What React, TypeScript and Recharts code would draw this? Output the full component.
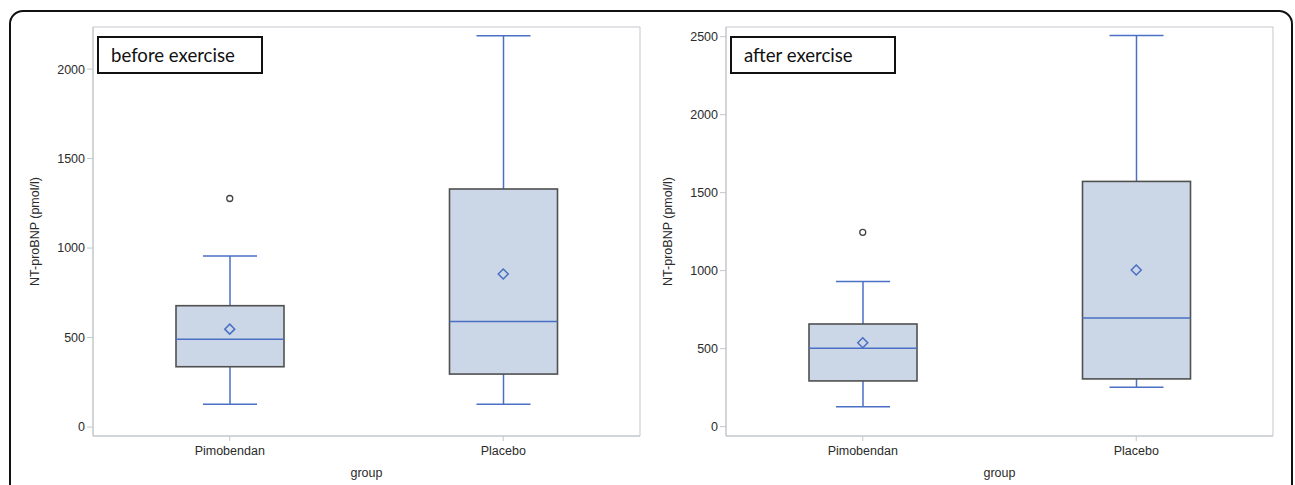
import React from 'react';
import { ComposedChart, Bar, Scatter, XAxis, YAxis, CartesianGrid, Label } from 'recharts';

const GROUPS = ['Pimobendan', 'Placebo'];

// before exercise
const BEFORE_MIN = [128, 128];
const BEFORE_Q1 = [337, 296];
const BEFORE_MEDIAN = [490, 590];
const BEFORE_Q3 = [678, 1330];
const BEFORE_MAX = [955, 2186];
const BEFORE_MEAN = [547, 855];
const BEFORE_OUTLIER = [1277, null];
const BEFORE_TICKS = [0, 500, 1000, 1500, 2000];

// after exercise
const AFTER_MIN = [128, 253];
const AFTER_Q1 = [293, 306];
const AFTER_MEDIAN = [502, 697];
const AFTER_Q3 = [658, 1572];
const AFTER_MAX = [931, 2508];
const AFTER_MEAN = [538, 1004];
const AFTER_OUTLIER = [1246, null];
const AFTER_TICKS = [0, 500, 1000, 1500, 2000, 2500];

const BLUE = '#4a6fc5';
const FILL = '#cbd6e6';
const EDGE = '#505050';
const FRAME = '#c3c7cc';
const TEXT = '#2b2b2b';
const FONT = "'Liberation Sans', Arial, sans-serif";

function buildRows(min, q1, median, q3, max, mean, outlier) {
  return GROUPS.map((group, i) => ({
    group,
    range: [min[i], max[i]],
    min: min[i],
    q1: q1[i],
    median: median[i],
    q3: q3[i],
    max: max[i],
    mean: mean[i],
    outlier: outlier[i],
  }));
}

const BEFORE_ROWS = buildRows(BEFORE_MIN, BEFORE_Q1, BEFORE_MEDIAN, BEFORE_Q3, BEFORE_MAX, BEFORE_MEAN, BEFORE_OUTLIER);
const AFTER_ROWS = buildRows(AFTER_MIN, AFTER_Q1, AFTER_MEDIAN, AFTER_Q3, AFTER_MAX, AFTER_MEAN, AFTER_OUTLIER);

// the bar spans min..max, so its pixel height gives the value scale for the box parts
function BoxShape(props: any) {
  const { x, y, width, height, payload } = props;
  if (!payload || !height) return null;
  const k = height / (payload.max - payload.min);
  const py = (v: number) => y + (payload.max - v) * k;
  const cx = x + width / 2;
  const cap = width / 4;
  return (
    <g>
      <line x1={cx} x2={cx} y1={py(payload.max)} y2={py(payload.q3)} stroke={BLUE} strokeWidth={1.5} />
      <line x1={cx} x2={cx} y1={py(payload.q1)} y2={py(payload.min)} stroke={BLUE} strokeWidth={1.5} />
      <line x1={cx - cap} x2={cx + cap} y1={py(payload.max)} y2={py(payload.max)} stroke={BLUE} strokeWidth={1.5} />
      <line x1={cx - cap} x2={cx + cap} y1={py(payload.min)} y2={py(payload.min)} stroke={BLUE} strokeWidth={1.5} />
      <rect x={x} y={py(payload.q3)} width={width} height={py(payload.q1) - py(payload.q3)} fill={FILL} stroke={EDGE} strokeWidth={1.6} />
      <line x1={x} x2={x + width} y1={py(payload.median)} y2={py(payload.median)} stroke={BLUE} strokeWidth={1.5} />
    </g>
  );
}

function MeanShape(props: any) {
  const { cx, cy } = props;
  if (cx == null || cy == null || isNaN(cy)) return null;
  const r = 5;
  return <path d={`M${cx},${cy - r}L${cx + r},${cy}L${cx},${cy + r}L${cx - r},${cy}Z`} fill="none" stroke={BLUE} strokeWidth={1.5} />;
}

function OutlierShape(props: any) {
  const { cx, cy, payload } = props;
  if (!payload || payload.outlier == null || cy == null || isNaN(cy)) return null;
  return <circle cx={cx} cy={cy} r={3} fill="#fff" stroke="#444" strokeWidth={1.3} />;
}

function Panel({ rows, domain, ticks, yWidth, width, left, title }) {
  const labelX = yWidth - 58;
  return (
    <div style={{ position: 'absolute', left, top: 0 }}>
      <ComposedChart width={width} height={485} data={rows} margin={{ top: 27, right: width - yWidth - 547, bottom: 9, left: 0 }}>
        <CartesianGrid
          stroke={FRAME}
          horizontalCoordinatesGenerator={({ offset }: any) => [offset.top, offset.top + offset.height]}
          verticalCoordinatesGenerator={({ offset }: any) => [offset.left, offset.left + offset.width]}
        />
        <XAxis
          dataKey="group"
          height={40}
          tickSize={5}
          tickMargin={5}
          axisLine={{ stroke: FRAME }}
          tickLine={{ stroke: FRAME }}
          tick={{ fill: TEXT, fontSize: 12.5, fontFamily: FONT }}
        >
          <Label
            content={({ viewBox }: any) => (
              <text x={viewBox.x + viewBox.width / 2} y={473} textAnchor="middle" dominantBaseline="central" fill={TEXT} fontSize={12.5} fontFamily={FONT}>
                group
              </text>
            )}
          />
        </XAxis>
        <YAxis
          type="number"
          domain={domain}
          ticks={ticks}
          allowDataOverflow
          width={yWidth}
          tickSize={6}
          axisLine={{ stroke: FRAME }}
          tickLine={{ stroke: FRAME }}
          tick={{ fill: TEXT, fontSize: 12.5, fontFamily: FONT }}
        >
          <Label
            content={({ viewBox }: any) => {
              const cy = viewBox.y + viewBox.height / 2;
              return (
                <text x={labelX} y={cy} transform={`rotate(-90 ${labelX} ${cy})`} textAnchor="middle" dominantBaseline="central" fill={TEXT} fontSize={12.5} fontFamily={FONT}>
                  NT-proBNP (pmol/l)
                </text>
              );
            }}
          />
        </YAxis>
        <Bar dataKey="range" barSize={108} shape={<BoxShape />} isAnimationActive={false} />
        <Scatter dataKey="mean" shape={<MeanShape />} isAnimationActive={false} />
        <Scatter dataKey="outlier" shape={<OutlierShape />} isAnimationActive={false} />
      </ComposedChart>
      <div
        style={{
          position: 'absolute',
          left: yWidth + 4,
          top: 36,
          width: 166,
          height: 38,
          boxSizing: 'border-box',
          border: '2px solid #111',
          background: '#fff',
          display: 'flex',
          alignItems: 'center',
          paddingLeft: 12,
          fontFamily: 'Lato, sans-serif',
          fontSize: 18.6,
          color: '#111',
        }}
      >
        {title}
      </div>
    </div>
  );
}

export default function App() {
  return (
    <div style={{ position: 'absolute', left: 0, top: 0, width: 1295, height: 485, overflow: 'hidden', background: '#fff' }}>
      <div
        style={{
          position: 'absolute',
          left: 9,
          top: 10,
          width: 1284,
          height: 520,
          boxSizing: 'border-box',
          border: '2px solid #111',
          borderRadius: 14,
        }}
      />
      <Panel rows={BEFORE_ROWS} domain={[-50, 2235]} ticks={BEFORE_TICKS} yWidth={93} width={660} left={0} title="before exercise" />
      <Panel rows={AFTER_ROWS} domain={[-60, 2562]} ticks={AFTER_TICKS} yWidth={86} width={655} left={640} title="after exercise" />
    </div>
  );
}
